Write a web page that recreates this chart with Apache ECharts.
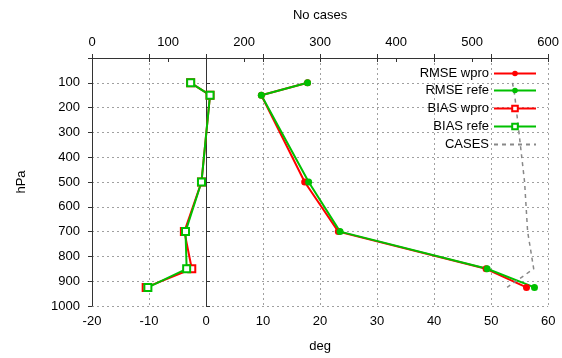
<!DOCTYPE html>
<html>
<head>
<meta charset="utf-8">
<script src="https://cdn.jsdelivr.net/npm/echarts@6/dist/echarts.min.js"></script>
<style>
  html, body { margin: 0; padding: 0; background: #fff; }
  #chart { width: 562px; height: 358px; }
</style>
</head>
<body>
<div id="chart"></div>
<script>
// ---- data ----
const levels   = [100, 150, 500, 700, 850, 925];          // hPa
const rmseWpro = [17.8, 9.7, 17.3, 23.2, 49.1, 56.2];     // deg
const rmseRefe = [17.8, 9.7, 18.0, 23.5, 49.3, 57.6];     // deg
const biasWpro = [-2.7, 0.7, -0.8, -3.8, -2.5, -10.5];    // deg
const biasRefe = [-2.7, 0.7, -0.8, -3.6, -3.4, -10.2];    // deg
const cases    = [553, 556, 569, 573, 581, 546];          // number of cases
const seriesNames = ['RMSE wpro', 'RMSE refe', 'BIAS wpro', 'BIAS refe', 'CASES'];

const RED = '#ff0000', GREEN = '#00c000', GREY = '#888888';
const FONT = 'Liberation Sans';
const pair = (xs) => xs.map((v, i) => [v, levels[i]]);

const chart = echarts.init(document.getElementById('chart'), null, { renderer: 'canvas' });

const tickStyle = { inside: true, length: 4, lineStyle: { color: '#333' } };
const lineStyleAxis = { show: true, lineStyle: { color: '#333', width: 1 } };
const labelStyle = { color: '#000', fontFamily: FONT, fontSize: 13 };
const gridLine = { show: true, lineStyle: { color: '#a0a0a0', type: [2, 3], width: 1 } };

function legendFor(name, top, hideSymbol) {
  const l = {
    data: [name], right: 25, top: top, orient: 'vertical', align: 'right',
    itemWidth: 42, itemHeight: 7, itemGap: 0, padding: 0,
    textStyle: { color: '#000', fontFamily: FONT, fontSize: 13 },
    selectedMode: false
  };
  if (hideSymbol) l.itemStyle = { opacity: 0 };
  return l;
}

const option = {
  animation: false,
  backgroundColor: '#fff',
  grid: { left: 92, right: 7, top: 58, bottom: 50, containLabel: false },
  legend: [
    legendFor(seriesNames[0], 67),
    legendFor(seriesNames[1], 84),
    legendFor(seriesNames[2], 102),
    legendFor(seriesNames[3], 120),
    legendFor(seriesNames[4], 138, true)
  ],
  xAxis: [
    { type: 'value', position: 'bottom', min: -20, max: 60, interval: 10,
      name: 'deg', nameLocation: 'middle', nameGap: 34,
      nameTextStyle: { color: '#000', fontFamily: FONT, fontSize: 13 },
      axisLine: lineStyleAxis, axisTick: tickStyle,
      axisLabel: Object.assign({ margin: 9, alignMinLabel: 'center', alignMaxLabel: 'center' }, labelStyle),
      splitLine: gridLine },
    { type: 'value', position: 'top', min: 0, max: 600, interval: 100,
      name: 'No cases', nameLocation: 'middle', nameGap: 36,
      nameTextStyle: { color: '#000', fontFamily: FONT, fontSize: 13 },
      axisLine: lineStyleAxis, axisTick: tickStyle,
      axisLabel: Object.assign({ margin: 9, alignMinLabel: 'center', alignMaxLabel: 'center' }, labelStyle),
      splitLine: { show: false } },
    { type: 'value', position: 'top', min: -20, max: 60, interval: 10,
      axisLine: lineStyleAxis, axisTick: tickStyle,
      axisLabel: { show: false }, splitLine: { show: false } }
  ],
  yAxis: [
    { type: 'value', inverse: true, min: 0, max: 1000, interval: 100,
      name: 'hPa', nameLocation: 'middle', nameGap: 64, nameRotate: 90,
      nameTextStyle: { color: '#000', fontFamily: FONT, fontSize: 13 },
      axisLine: lineStyleAxis, axisTick: tickStyle,
      axisLabel: Object.assign({ margin: 12, formatter: v => (v === 0 ? '' : String(v)) }, labelStyle),
      splitLine: gridLine },
    { type: 'value', inverse: true, min: 0, max: 1000, interval: 100, position: 'right',
      axisLine: lineStyleAxis, axisTick: tickStyle,
      axisLabel: { show: false }, splitLine: { show: false } }
  ],
  series: [
    { name: seriesNames[0], type: 'line', xAxisIndex: 0, yAxisIndex: 0, data: pair(rmseWpro),
      color: RED, symbol: 'circle', symbolSize: 7, lineStyle: { color: RED, width: 2 },
      itemStyle: { color: RED } },
    { name: seriesNames[1], type: 'line', xAxisIndex: 0, yAxisIndex: 0, data: pair(rmseRefe),
      color: GREEN, symbol: 'circle', symbolSize: 7, lineStyle: { color: GREEN, width: 2 },
      itemStyle: { color: GREEN } },
    { name: seriesNames[2], type: 'line', xAxisIndex: 0, yAxisIndex: 0, data: pair(biasWpro),
      color: RED, symbol: 'emptyRect', symbolSize: 7, lineStyle: { color: RED, width: 2 },
      itemStyle: { color: RED, borderColor: RED, borderWidth: 1.5 } },
    { name: seriesNames[3], type: 'line', xAxisIndex: 0, yAxisIndex: 0, data: pair(biasRefe),
      color: GREEN, symbol: 'emptyRect', symbolSize: 7, lineStyle: { color: GREEN, width: 2 },
      itemStyle: { color: GREEN, borderColor: GREEN, borderWidth: 1.5 } },
    { name: seriesNames[4], type: 'line', xAxisIndex: 1, yAxisIndex: 0, data: pair(cases),
      color: GREY, symbol: 'none', lineStyle: { color: GREY, width: 1.5, type: [4, 4] },
      itemStyle: { color: GREY } }
  ]
};

chart.setOption(option);
</script>
</body>
</html>
